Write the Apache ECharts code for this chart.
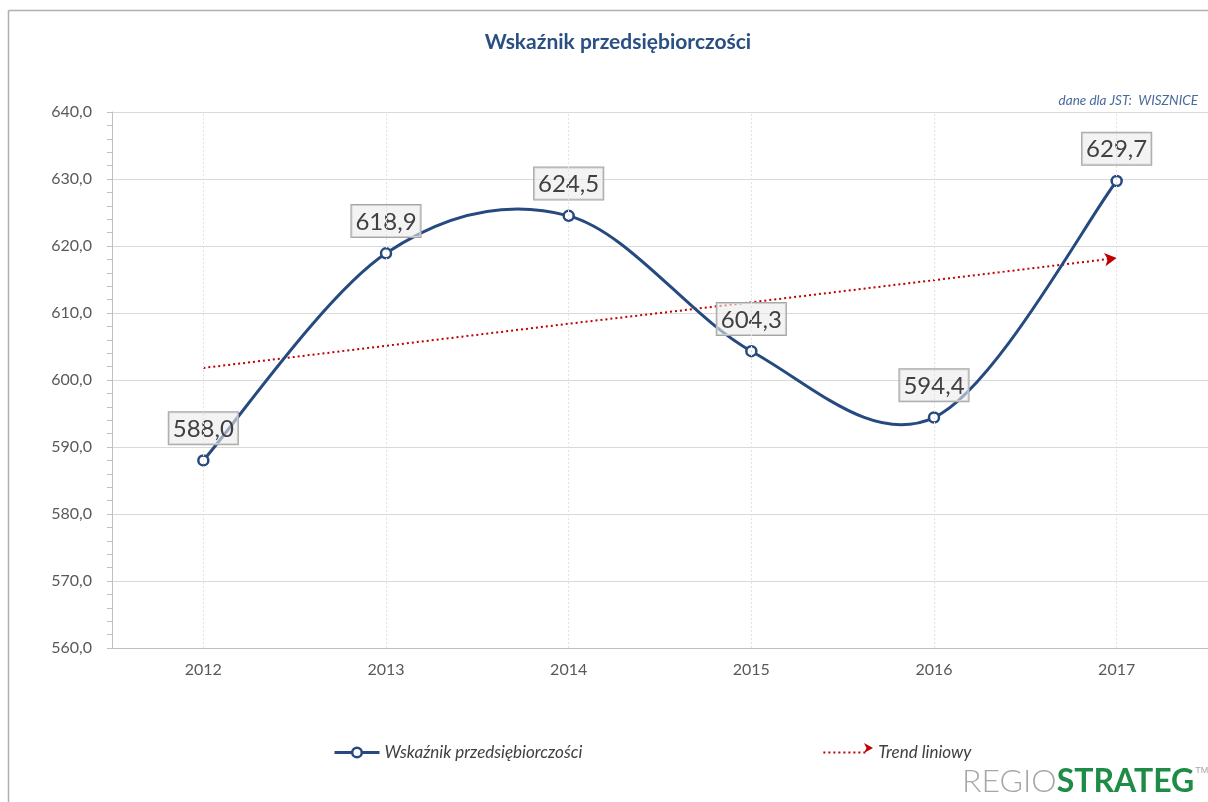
<!DOCTYPE html>
<html>
<head>
<meta charset="utf-8">
<script src="https://cdn.jsdelivr.net/npm/echarts@6/dist/echarts.min.js"></script>
<style>html,body{margin:0;padding:0;background:#fff}#c{width:1208px;height:802px}</style>
</head>
<body>
<div id="c"></div>
<script>
var categories = ['2012', '2013', '2014', '2015', '2016', '2017'];
var values = [588.0, 618.9, 624.5, 604.3, 594.4, 629.7];
var trendValues = [601.8, 605.1, 608.4, 611.6, 614.9, 618.2];
var yTicks = [560, 570, 580, 590, 600, 610, 620, 630, 640];

var NAVY = '#264a80';
var RED = '#c00000';
var fmt = function (v) { return Number(v).toFixed(1).replace('.', ','); };
var chart = echarts.init(document.getElementById('c'));

var trendData = trendValues.map(function (v, i) {
  if (i === trendValues.length - 1) {
    return { value: v, symbol: 'arrow', symbolSize: [10, 12], symbolRotate: -83, itemStyle: { color: RED } };
  }
  return { value: v, symbol: 'none' };
});

// Excel-like smooth curve (Catmull-Rom Bezier) drawn through the axis scales
function renderCurve(params, api) {
  if (params.dataIndex !== 0) return null;
  var pts = values.map(function (v, i) { return api.coord([i, v]); });
  var d = 'M' + pts[0][0] + ',' + pts[0][1];
  for (var i = 0; i < pts.length - 1; i++) {
    var p0 = pts[Math.max(i - 1, 0)], p1 = pts[i], p2 = pts[i + 1], p3 = pts[Math.min(i + 2, pts.length - 1)];
    var c1 = [p1[0] + (p2[0] - p0[0]) / 6, p1[1] + (p2[1] - p0[1]) / 6];
    var c2 = [p2[0] - (p3[0] - p1[0]) / 6, p2[1] - (p3[1] - p1[1]) / 6];
    d += ' C' + c1[0] + ',' + c1[1] + ' ' + c2[0] + ',' + c2[1] + ' ' + p2[0] + ',' + p2[1];
  }
  return {
    type: 'path',
    shape: { pathData: d },
    style: { fill: 'none', stroke: NAVY, lineWidth: 3 }
  };
}

chart.setOption({
  animation: false,
  textStyle: { fontFamily: 'Lato, "Open Sans", sans-serif' },
  title: [{
    text: 'Wskaźnik przedsiębiorczości',
    left: 613, top: 27, textAlign: 'center',
    textStyle: { color: '#2a4f82', fontSize: 21, fontWeight: 'bold', fontFamily: 'Lato, sans-serif' }
  }, {
    text: 'dane dla JST:  WISZNICE',
    right: 5, top: 89,
    textStyle: { color: '#4a6a9c', fontSize: 13.5, fontStyle: 'italic', fontWeight: 'normal', fontFamily: 'Lato, sans-serif' }
  }],
  legend: {
    top: 739, left: 328, itemGap: 240, itemWidth: 45, itemHeight: 12,
    textStyle: { color: '#404040', fontSize: 17, fontStyle: 'italic', fontFamily: 'Lato, sans-serif' },
    data: [
      { name: 'Wskaźnik przedsiębiorczości',
        lineStyle: { color: NAVY, width: 3, opacity: 1 },
        itemStyle: { color: '#ffffff', borderColor: NAVY, borderWidth: 2.5 } },
      { name: 'Trend liniowy',
        itemStyle: { opacity: 0 },
        lineStyle: { color: RED, width: 2, type: [2, 3], opacity: 1 },
        textStyle: { padding: [0, 0, 0, 5] } }
    ]
  },
  grid: { left: 112, right: 0, top: 112, bottom: 154 },
  xAxis: {
    type: 'category', data: categories, boundaryGap: true,
    axisLine: { lineStyle: { color: '#bfbfbf', width: 1 } },
    axisTick: { alignWithLabel: true, length: 5, lineStyle: { color: '#bfbfbf' } },
    axisLabel: { color: '#595959', fontSize: 16, margin: 14 },
    splitLine: { show: false }
  },
  yAxis: {
    type: 'value', min: yTicks[0], max: yTicks[yTicks.length - 1], interval: 10,
    axisLine: { show: true, lineStyle: { color: '#bfbfbf' } },
    axisTick: { show: true, length: 5, lineStyle: { color: '#bfbfbf' } },
    minorTick: { show: true, splitNumber: 5, length: 5, lineStyle: { color: '#bfbfbf' } },
    axisLabel: { color: '#595959', fontSize: 16, margin: 20, formatter: fmt },
    splitLine: { lineStyle: { color: '#d9d9d9' } }
  },
  series: [{
    name: 'Wskaźnik przedsiębiorczości', type: 'line', data: values, z: 4,
    symbol: 'circle', symbolSize: 10, showAllSymbol: true,
    lineStyle: { color: NAVY, width: 3, opacity: 0 },
    itemStyle: { color: '#ffffff', borderColor: NAVY, borderWidth: 2.5 },
    label: {
      show: true, position: 'top', distance: 10, formatter: function (p) { return fmt(p.value); },
      color: '#404040', fontSize: 24, fontFamily: 'Lato, sans-serif',
      backgroundColor: 'rgba(235,235,235,0.6)', borderColor: '#a6a6a6', borderWidth: 1,
      padding: [5, 4, 3, 4]
    },
    markLine: {
      silent: true, symbol: 'none', label: { show: false },
      lineStyle: { color: '#e3e3e3', type: [2, 2], width: 1 },
      data: categories.map(function (c) { return { xAxis: c }; })
    }
  }, {
    name: 'curve', type: 'custom', data: values, z: 3, silent: true,
    renderItem: renderCurve
  }, {
    name: 'Trend liniowy', type: 'line', data: trendData, z: 2, symbol: 'none',
    lineStyle: { color: RED, width: 2, type: [2, 3] },
    itemStyle: { color: RED }
  }],
  graphic: [
    { type: 'line', shape: { x1: 8.5, y1: 10.5, x2: 1208, y2: 10.5 }, style: { stroke: '#b0b0b0', lineWidth: 1.5 } },
    { type: 'line', shape: { x1: 8.5, y1: 10.5, x2: 8.5, y2: 802 }, style: { stroke: '#b0b0b0', lineWidth: 1.5 } },
    { type: 'polygon', shape: { points: [[864, 743], [873, 748], [864, 753], [866.5, 748]] }, style: { fill: RED } },
    {
      type: 'text', left: 962, top: 766,
      style: {
        text: '{a|REGIO}{b|STRATEG}{c|TM}',
        rich: {
          a: { fontSize: 32, fill: '#a6a6a6', fontWeight: 300, fontFamily: 'Lato, sans-serif' },
          b: { fontSize: 32, fill: '#1e8c46', fontWeight: 'bold', fontFamily: 'Lato, sans-serif' },
          c: { fontSize: 9, fill: '#a6a6a6', verticalAlign: 'top', padding: [0, 0, 18, 1] }
        }
      }
    }
  ]
});
</script>
</body>
</html>
